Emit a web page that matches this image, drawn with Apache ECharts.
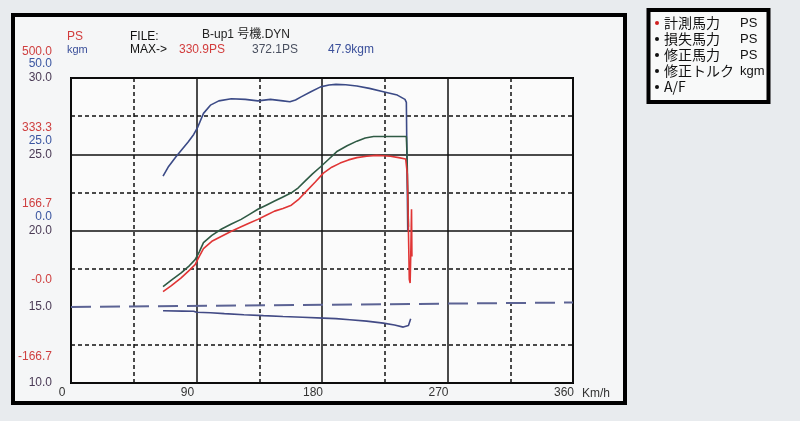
<!DOCTYPE html>
<html>
<head>
<meta charset="utf-8">
<script src="https://cdn.jsdelivr.net/npm/echarts@6/dist/echarts.min.js"></script>
<style>
html,body{margin:0;padding:0;background:#e8ebee;}
#c{width:800px;height:421px;}
</style>
</head>
<body>
<div id="c"></div>
<script>
// ---- data (speed km/h, value) ----
const speedTicks = [0, 90, 180, 270, 360];
const psLabels = ['-166.7', '-0.0', '166.7', '333.3', '500.0'];
const kgmLabels = ['', '', '0.0', '25.0', '50.0'];
const afLabels = ['10.0', '15.0', '20.0', '25.0', '30.0'];

const measuredPS = [[66,33],[72,46],[79,63],[85,80],[89,92],[92,110],[95,127],[101,143],[108,154],[115,165],[122,175],[128,183],[134,191],[140,200],[146,209],[152,215],[158,222],[163,234],[168,250],[175,272],[181,292],[187,305],[193,314],[199,321],[205,326],[212,329],[219,330.9],[224,330],[229,329],[235,326],[240,323],[241.2,290],[241.8,200],[242.6,60],[243.2,52],[243.7,120],[244.2,213],[244.5,110]];
const lossPS = [[66,-8.8],[80,-9.5],[88,-10],[90,-12],[100,-13],[110,-15],[124,-17.5],[138,-19.5],[152,-21.3],[166,-23],[181,-24.8],[190,-26],[200,-28.5],[212,-31.5],[224,-35.8],[232,-40],[238.3,-44.5],[242,-41],[243.6,-26]];
const correctedPS = [[66,44],[72,58],[79,74],[85,90],[89,103],[92,120],[95,140],[101,156],[108,170],[115,181],[122,191],[128,202],[134,213],[140,222],[146,231],[152,240],[158,249],[163,260],[168,275],[173,290],[179,306],[185,323],[191,340],[198,352],[205,362],[211,369],[217,372.1],[226,372],[234,372],[240.5,372],[241,330],[241.5,250],[242,175]];
const torqueKgm = [[66,17.8],[70,21],[75,24],[80,26.8],[84,29],[88,31.5],[91,34],[95,38.4],[100,41.1],[106,42.5],[115,43.2],[125,43],[134,42.5],[143,43],[152,42.5],[157,42.2],[161,42.8],[165,43.8],[172,45.5],[179,47.1],[185,47.7],[190,47.9],[197,47.8],[205,47.4],[214,46.6],[224,45.5],[234,44.4],[239.5,43],[240.5,42],[241,20],[241.5,0]];
const afRatio = [[0,14.98],[360,15.28]];

const seriesNames = ['計測馬力', '損失馬力', '修正馬力', '修正トルク', 'A/F'];
const seriesUnits = ['PS', 'PS', 'PS', 'kgm', ''];

const headerFile = 'B-up1 号機.DYN';
const maxMeasured = '330.9PS';
const maxCorrected = '372.1PS';
const maxTorque = '47.9kgm';

// ---- chart ----
const FONT = "'Liberation Sans', 'Noto Sans CJK JP', sans-serif";
const JP = "'Noto Sans CJK JP', sans-serif";
const chart = echarts.init(document.getElementById('c'), null, {renderer: 'canvas'});
const step = 500 / 3;

const dash = {type: [4, 3], color: '#111', width: 1.5};
const solid = {type: 'solid', color: '#111', width: 1.5};

function txt(x, y, text, fill, size, family) {
  return {type: 'text', x: x, y: y, z: 10,
    style: {text: text, fill: fill, fontSize: size || 12, fontFamily: family || FONT, verticalAlign: 'middle'}};
}
// label followed by blank lines so that, centred on the tick, it sits above it
function raised(label, blank) {
  let s = label;
  for (let i = 0; i < blank; i++) s += '\n\u00a0';
  return s;
}

const unitMap = {};
seriesNames.forEach((n, i) => unitMap[n] = seriesUnits[i]);

chart.setOption({
  backgroundColor: '#e8ebee',
  animation: false,
  graphic: [
    {type: 'rect', z: -100, shape: {x: 13, y: 15, width: 612, height: 388}, style: {fill: '#f5f6f7', stroke: '#000', lineWidth: 4}},
    {type: 'rect', z: -100, shape: {x: 648.5, y: 10, width: 120, height: 92}, style: {fill: '#f8f9f9', stroke: '#000', lineWidth: 4}},
    txt(67, 37, 'PS', '#d23c3c'),
    txt(67, 50, 'kgm', '#3a4f9a', 11),
    txt(130, 37, 'FILE:', '#111'),
    txt(202, 35, headerFile, '#222', 12, FONT),
    txt(130, 50, 'MAX->', '#111'),
    txt(179, 50, maxMeasured, '#d23c3c'),
    txt(252, 50, maxCorrected, '#4a5060'),
    txt(328, 50, maxTorque, '#3a4f9a')
  ],
  legend: {
    orient: 'vertical', left: 655, top: 15, padding: 0, itemGap: 0, itemWidth: 4, itemHeight: 4, icon: 'circle',
    selectedMode: false,
    data: seriesNames.map((n, i) => ({name: n, itemStyle: {color: i === 0 ? '#d02020' : '#111'}})),
    formatter: n => '{n|' + n + '}{u|' + unitMap[n] + '}',
    textStyle: {
      color: '#111', fontSize: 14, fontFamily: JP, lineHeight: 16,
      rich: {
        n: {width: 76, fontSize: 14, fontFamily: JP, lineHeight: 16, color: '#111'},
        u: {fontSize: 13, fontFamily: FONT, lineHeight: 16, color: '#111'}
      }
    }
  },
  grid: {left: 71, right: 227, top: 78, bottom: 38, show: true, borderColor: '#000', borderWidth: 2, backgroundColor: '#fbfbfb'},
  xAxis: {
    type: 'value', min: 0, max: 360, interval: 90, position: 'bottom',
    axisLine: {show: false, onZero: false}, axisTick: {show: false},
    axisLabel: {color: '#333', fontSize: 12, fontFamily: FONT, margin: 4, padding: [0, 18, 0, 0],
      formatter: v => speedTicks.indexOf(v) >= 0 ? String(v) : ''},
    splitLine: {show: true, lineStyle: solid},
    minorTick: {show: false, splitNumber: 2},
    minorSplitLine: {show: true, lineStyle: dash},
    name: 'Km/h', nameLocation: 'end', nameGap: 9,
    nameTextStyle: {color: '#333', fontSize: 12, fontFamily: FONT, verticalAlign: 'top', padding: [5, 0, 0, 0]}
  },
  yAxis: [
    { // A/F axis (grid lines)
      type: 'value', min: 10, max: 30, interval: 5, position: 'left',
      axisLine: {show: false, onZero: false}, axisTick: {show: false},
      axisLabel: {color: '#4a3a55', fontSize: 12, fontFamily: FONT, margin: 19,
        formatter: v => afLabels[Math.round((v - 10) / 5)]},
      splitLine: {show: true, lineStyle: {type: 'solid', width: 1.5, color: ['#111', 'rgba(0,0,0,0)', '#111', '#111', '#111']}},
      minorTick: {show: false, splitNumber: 2},
      minorSplitLine: {show: true, lineStyle: dash}
    },
    { // PS axis
      type: 'value', min: -step, max: 500, interval: step, position: 'left',
      axisLine: {show: false, onZero: false}, axisTick: {show: false}, splitLine: {show: false},
      axisLabel: {color: '#cf4040', fontSize: 12, fontFamily: FONT, margin: 19, lineHeight: 13.35,
        formatter: v => raised(psLabels[Math.round((v + step) / step)], 4)}
    },
    { // kgm axis
      type: 'value', min: -50, max: 50, interval: 25, position: 'left',
      axisLine: {show: false, onZero: false}, axisTick: {show: false}, splitLine: {show: false},
      axisLabel: {color: '#3a55a0', fontSize: 12, fontFamily: FONT, margin: 19, lineHeight: 14,
        formatter: v => { const l = kgmLabels[Math.round((v + 50) / 25)]; return l ? raised(l, 2) : ''; }}
    }
  ],
  series: [
    {name: 'A/F', type: 'line', yAxisIndex: 0, data: afRatio, showSymbol: false, z: 3,
      lineStyle: {color: '#5c6394', width: 2, type: [20, 9]}, itemStyle: {color: '#5c6394'}},
    {name: '損失馬力', type: 'line', yAxisIndex: 1, data: lossPS, showSymbol: false, z: 4,
      lineStyle: {color: '#424a85', width: 1.6}, itemStyle: {color: '#424a85'}},
    {name: '修正トルク', type: 'line', yAxisIndex: 2, data: torqueKgm, showSymbol: false, z: 5,
      lineStyle: {color: '#3b4a86', width: 1.6}, itemStyle: {color: '#3b4a86'}},
    {name: '修正馬力', type: 'line', yAxisIndex: 1, data: correctedPS, showSymbol: false, z: 6,
      lineStyle: {color: '#2f5a44', width: 1.6}, itemStyle: {color: '#2f5a44'}},
    {name: '計測馬力', type: 'line', yAxisIndex: 1, data: measuredPS, showSymbol: false, z: 7,
      lineStyle: {color: '#e03535', width: 1.6}, itemStyle: {color: '#e03535'}}
  ]
});
</script>
</body>
</html>
